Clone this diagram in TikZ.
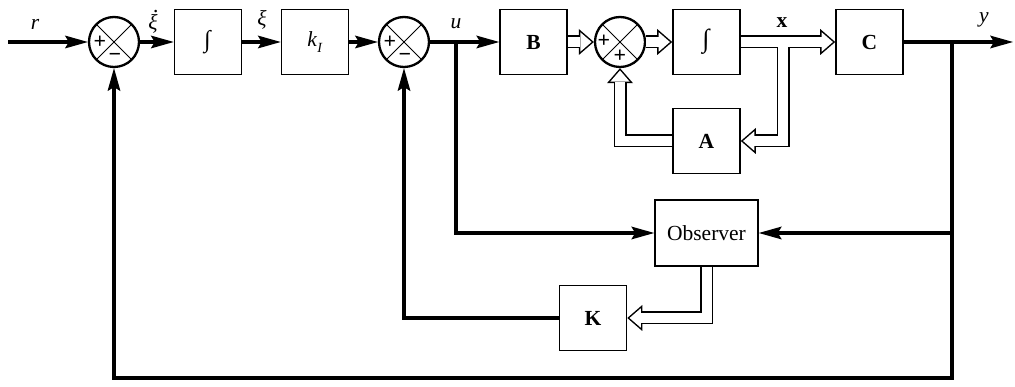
\documentclass[tikz,border=0pt]{standalone}
\usepackage{fontspec}
\setmainfont{Liberation Serif}
\usetikzlibrary{arrows.meta,calc}
\begin{document}
\begin{tikzpicture}[x=1pt,y=-1pt,
  font=\fontsize{21.5}{24}\selectfont,
  blk/.style={draw, line width=1.6pt, minimum width=67pt, minimum height=65pt, inner sep=0pt},
  sumj/.style={circle, draw, line width=2.3pt, minimum size=50pt, inner sep=0pt,
    path picture={\draw[line width=1pt] (path picture bounding box.north west) -- (path picture bounding box.south east)
      (path picture bounding box.north east) -- (path picture bounding box.south west);}},
  sig/.style={line width=3.6pt, -{Stealth[length=23pt,width=13pt,inset=4pt,line width=0pt]}},
  vec/.style={line width=10pt, white, -{Triangle[length=11.2pt,width=19.4pt,line width=0pt]}, shorten >=2.3pt,
    preaction={draw, black, line width=13pt, shorten >=0pt, -{Triangle[length=15pt,width=26pt,line width=0pt]}}},
  sgn/.style={font=\fontsize{22}{22}\bfseries, inner sep=0pt},
  lbl/.style={inner sep=0pt}
]
\useasboundingbox (0,0) rectangle (1015,387);

% blocks
\node[sumj] (s1) at (114,42) {};
\node[blk] (i1) at (208,42) {\fontsize{24}{24}\selectfont\textit{∫}};
\node[blk] (kI) at (315,42) {\textit{k}\raisebox{-0.25em}{\fontsize{14}{14}\selectfont\textit{I}}};
\node[sumj] (s2) at (404,42) {};
\node[blk] (B) at (533.5,42) {\textbf{B}};
\node[sumj] (s3) at (620,42) {};
\node[blk] (i2) at (706.5,42) {\fontsize{26}{26}\selectfont\textbf{∫}};
\node[blk] (A) at (706.5,141) {\textbf{A}};
\node[blk] (C) at (869.5,42) {\textbf{C}};
\node[blk, minimum width=103pt, minimum height=66pt] (obs) at (706.5,233) {Observer};
\node[blk] (K) at (593,318) {\textbf{K}};

% signs
\node[sgn] (s1p) at (100,42) {+};
\node[sgn] (s1m) at (115,57) {−};
\node[sgn] (s2p) at (390,42) {+};
\node[sgn] (s2m) at (405,57) {−};
\node[sgn] (s3p) at (604,41) {+};
\node[sgn] (s3q) at (620,56) {+};

% coordinates
\coordinate (rin) at (8,42);
\coordinate (ubr) at (456,42);
\coordinate (xbr) at (783,47);
\coordinate (ybr) at (952,42);
\coordinate (yout) at (1013,42);
\coordinate (bot) at (952,378);

% vector connectors
\draw[vec] (B.east) -- (s3.west);
\draw[vec] (s3.east) -- (i2.west);
\draw[vec] (i2.east) -- (C.west);
\draw[vec] (xbr) |- (A.east);
\draw[vec] (A.west) -| (s3.south);
\draw[vec] (obs.south) |- (K.east);

% scalar connectors
\draw[sig] (rin) -- (s1.west);
\draw[sig] (s1.east) -- (i1.west);
\draw[sig] (i1.east) -- (kI.west);
\draw[sig] (kI.east) -- (s2.west);
\draw[sig] (s2.east) -- (B.west);
\draw[sig] (ubr) |- (obs.west);
\draw[sig] (C.east) -- (yout);
\draw[sig] (ybr) |- (obs.east);
\draw[sig] (ybr) -- (bot) -| (s1.south);
\draw[sig] (K.west) -| (s2.south);

% labels
\node[lbl] (lr) at (35,24) {\textit{r}};
\node[lbl] (lxid) at (153,22) {\itshape\makebox[0pt][l]{\hspace{0.24em}\raisebox{0.78em}{.}}ξ};
\node[lbl] (lxi) at (262,20) {\textit{ξ}};
\node[lbl] (lu) at (456,24) {\textit{u}};
\node[lbl] (lx) at (782,23) {\textbf{x}};
\node[lbl] (ly) at (984,20) {\textit{y}};
\end{tikzpicture}
\end{document}
